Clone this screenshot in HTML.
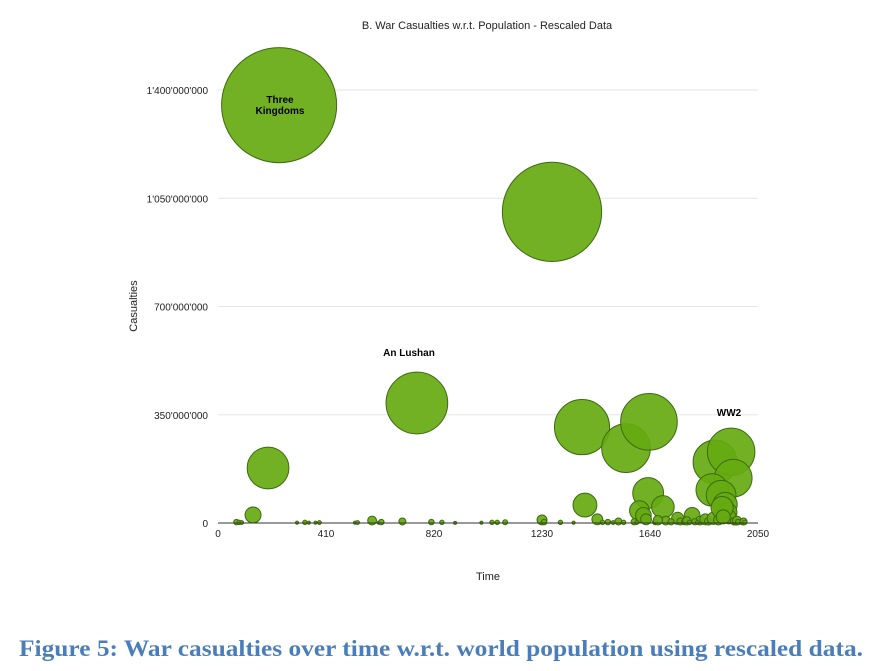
<!DOCTYPE html>
<html><head><meta charset="utf-8"><style>
body{margin:0;background:#fff;width:886px;height:671px;overflow:hidden}
svg{display:block;font-family:"Liberation Sans",sans-serif}
</style></head><body>
<svg id="chart" width="886" height="671">
<text x="487" y="29" font-size="11" text-anchor="middle" fill="#222">B. War Casualties w.r.t. Population - Rescaled Data</text>
<text x="488" y="580" font-size="11" text-anchor="middle" fill="#222">Time</text>
<text x="137" y="306" font-size="11" text-anchor="middle" fill="#222" transform="rotate(-90 137 306)">Casualties</text>
<g id="grid"></g><g id="bubbles"></g><g id="ticks"></g>
<text x="280" y="103" font-size="10" font-weight="bold" text-anchor="middle">Three</text>
<text x="280" y="114" font-size="10" font-weight="bold" text-anchor="middle">Kingdoms</text>
<text x="409" y="356" font-size="10" font-weight="bold" text-anchor="middle">An Lushan</text>
<text x="729" y="416" font-size="10" font-weight="bold" text-anchor="middle">WW2</text>
<text x="441" y="656" font-size="23" font-weight="bold" fill="#4a7ebb" text-anchor="middle" textLength="844" lengthAdjust="spacingAndGlyphs" font-family="'Liberation Sans Narrow','Liberation Serif',serif">Figure 5: War casualties over time w.r.t. world population using rescaled data.</text>
</svg>
<script>
const xTicks=[0,410,820,1230,1640,2050];
const yTicks=[0,350000000,700000000,1050000000,1400000000];
const yTickLabels=["0","350'000'000","700'000'000","1'050'000'000","1'400'000'000"];
const years=[232,1268,755,190,133,1382,1549,1636,1393,1633,1689,1887,1948,1956,1876,1910,1925,1935,1940,1600,1615,1625,1700,1745,1755,1800,1830,1850,1862,1880,1900,1914,1918,1960,1965,1970,1975,1990,1995,2000,1230,1238,1300,1350,1440,1460,1480,1500,1520,1540,1580,1590,1660,1670,1720,1770,1780,1790,1810,1820,70,80,90,300,330,345,370,385,520,530,585,610,620,700,810,850,900,1000,1040,1060,1090];
const values=[1351000000,1006000000,388000000,178000000,26000000,310000000,242000000,327000000,58000000,97000000,52000000,197000000,230000000,145000000,107000000,90000000,60000000,35000000,20000000,40000000,25000000,12000000,8000000,15000000,5000000,25000000,8000000,12000000,6000000,15000000,10000000,50000000,20000000,6000000,4000000,8000000,3000000,2500000,5000000,2000000,10000000,3000000,2000000,1000000,12000000,2000000,3000000,1500000,5000000,2000000,4000000,1500000,3000000,9000000,4000000,3000000,7000000,2000000,4000000,1500000,3000000,2000000,1500000,1000000,2000000,1000000,1000000,1500000,1000000,1500000,8000000,1000000,3000000,5000000,3000000,2000000,500000,1000000,2000000,2000000,2500000];
const X0=218,X1=758,Y0=523,Y1=90;
const xs=v=>X0+(v-0)/2050*(X1-X0);
const ys=v=>Y0-v/1400000000*(Y0-Y1);
const rs=v=>Math.max(1.5,49.5*Math.sqrt(v/1e9));
const NS="http://www.w3.org/2000/svg";
const grid=document.getElementById('grid'),tk=document.getElementById('ticks'),bg=document.getElementById('bubbles');
function mk(tag,at,parent){const e=document.createElementNS(NS,tag);for(const k in at)e.setAttribute(k,at[k]);parent.appendChild(e);return e;}
yTicks.forEach((v,i)=>{
 if(i>0){const l=mk('line',{x1:X0,x2:X1,y1:ys(v),y2:ys(v),stroke:'#e6e6e6','stroke-width':1},grid);
 
 }
 const t=mk('text',{x:208,y:ys(v)+4,'font-size':10,'text-anchor':'end',fill:'#222'},tk);t.textContent=yTickLabels[i];
 
 
});
xTicks.forEach(v=>{
 const t=mk('text',{x:xs(v),y:537,'font-size':10,'text-anchor':'middle',fill:'#222'},tk);t.textContent=String(v);
 
 
});
years.forEach((yr,i)=>{
 const c=mk('circle',{cx:xs(yr),cy:ys(values[i]),r:rs(values[i]),fill:'#66aa11','fill-opacity':0.92,stroke:'#3d6a10','stroke-width':1},bg);
 
 
});
const ax=mk('line',{x1:X0,x2:X1,y1:Y0,y2:Y0,stroke:'#333','stroke-width':1},tk);


</script>
</body></html>
